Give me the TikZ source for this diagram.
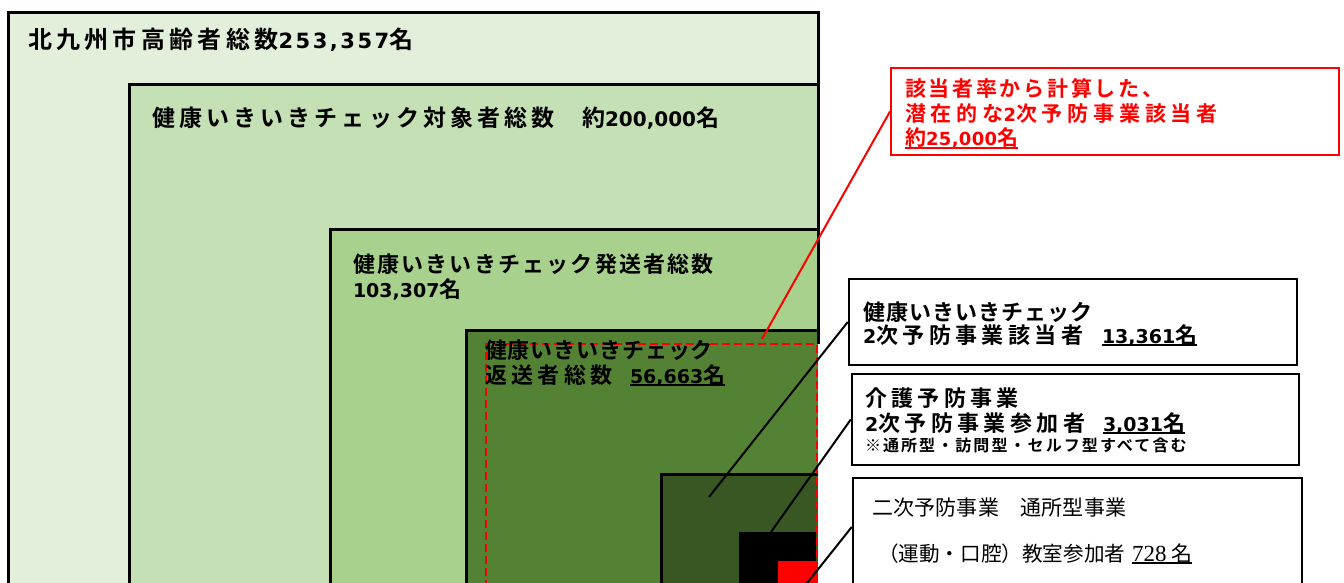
\documentclass[tikz,border=0pt]{standalone}
\usepackage{fontspec}
\setmainfont{Noto Sans CJK JP}
\newfontfamily\jpb{Noto Sans CJK JP Bold}
\newfontfamily\jpr{Noto Sans CJK JP}
\newfontfamily\dvb{DejaVu Sans Bold}
\newfontfamily\tnr{Liberation Serif}
\definecolor{gA}{HTML}{E2EFDA}
\definecolor{gB}{HTML}{C5E0B4}
\definecolor{gC}{HTML}{A9D18E}
\definecolor{gD}{HTML}{548235}
\definecolor{gE}{HTML}{385723}
\newcommand\dg[3]{{\dvb\fontsize{#1}{#1}\selectfont\addfontfeatures{LetterSpace=#2}#3}}
\newsavebox\ulbox
\newcommand\ulx[1]{\sbox\ulbox{#1}\rlap{\rule[-3pt]{\wd\ulbox}{1.6pt}}\usebox\ulbox}
\newcommand\jf[2]{\jpb\fontsize{#1}{#1}\selectfont\addfontfeatures{LetterSpace=#2}}
\newcommand\jr[2]{\jpr\fontsize{#1}{#1}\selectfont\addfontfeatures{LetterSpace=#2}}
\tikzset{
  txt/.style={anchor=base west, inner sep=0pt, outer sep=0pt},
  gb/.style={line width=3pt},
  callbox/.style={draw=black, line width=2.5pt, fill=white, inner sep=0pt},
  redbox/.style={draw=red, line width=2pt, fill=white, inner sep=0pt},
  conn/.style={line width=2pt, black},
}
\begin{document}
\begin{tikzpicture}[x=1pt,y=-1pt]
\useasboundingbox (0,0) rectangle (1344,583);
\clip (0,0) rectangle (1344,583);
\fill[white] (0,0) rectangle (1344,583);
% nested green areas
\fill[gA] (8,13) rectangle (818,600);
\draw[gb] (8,600) -- (8,13) -- (818,13);
\fill[gB] (129,85) rectangle (818,600);
\draw[gb] (129,600) -- (129,85) -- (818,85);
\fill[gC] (330,229) rectangle (818,600);
\draw[gb] (330,600) -- (330,229) -- (818,229);
\fill[gD] (466,330) rectangle (818,600);
\draw[gb] (466,600) -- (466,330) -- (818,330);
\fill[gE] (661,474) rectangle (818,600);
\draw[gb] (661,600) -- (661,474) -- (818,474);
\fill[black] (739,532) rectangle (816,600);
\fill[red] (778,561) rectangle (818,600);
\draw[gb] (818,11.5) -- (818,344);
\draw[red, line width=2.5pt, dash pattern=on 8pt off 4pt] (486,600) -- (486,344) -- (817,344) -- (817,600);
% texts in green areas
\node[txt, font={\jf{24}{18}}] (t1) at (28,49) {北九州市高齢者総数\dg{21}{12}{253,357}名};
\node[txt, font={\jf{23}{18}}] (t2a) at (152,127) {健康いきいきチェック対象者総数};
\node[txt, font={\jf{23}{18}}] (t2b) at (582,127) {約\dg{20}{0}{200,000}名};
\node[txt, font={\jf{22}{10}}] (t3a) at (353,272) {健康いきいきチェック発送者総数};
\node[txt, font={\jf{22}{10}}] (t3b) at (353,297) {\dg{19}{0}{103,307}名};
\node[txt, font={\jf{22}{4}}] (t4a) at (485,358) {健康いきいきチェック};
\node[txt, font={\jf{22}{20}}] (t4b) at (485,383) {返送者総数};
\node[txt, font={\jf{22}{5}}] (t4c) at (630,383) {\ulx{\dg{19}{0}{56,663}名}};
% callout boxes
\node[redbox, minimum width=448, minimum height=87] (rb) at (1115,111.5) {};
\node[callbox, minimum width=448, minimum height=86] (cA) at (1073,322) {};
\node[callbox, minimum width=447, minimum height=91] (cB) at (1075.5,419.5) {};
\node[callbox, minimum width=449, minimum height=122] (cC) at (1077.5,539) {};
% callout texts
\node[txt, red, font={\jf{21}{13}}] (r1) at (905,97) {該当者率から計算した、};
\node[txt, red, font={\jf{21}{23}}] (r2) at (905,122) {潜在的な\dg{18}{0}{2}次予防事業該当者};
\node[txt, red, font={\jf{21}{20}}] (r3) at (905,146) {\ulx{約\dg{18}{2}{25,000}名}};
\node[txt, font={\jf{22}{5}}] (a1) at (863,320) {健康いきいきチェック};
\node[txt, font={\jf{22}{20}}] (a2) at (863,343) {\dg{19}{0}{2}次予防事業該当者};
\node[txt, font={\jf{22}{5}}] (a3) at (1102,343) {\ulx{\dg{19}{0}{13,361}名}};
\node[txt, font={\jf{22}{20}}] (b1) at (865,406) {介護予防事業};
\node[txt, font={\jf{22}{20}}] (b2) at (865,431) {\dg{19}{0}{2}次予防事業参加者};
\node[txt, font={\jf{22}{5}}] (b3) at (1103,431) {\ulx{\dg{19}{0}{3,031}名}};
\node[txt, font={\jf{16}{13}}] (b4) at (865,451) {※通所型・訪問型・セルフ型すべて含む};
\node[txt, font={\jr{21}{1}}] (c1) at (872,515) {二次予防事業　通所型事業};
\node[txt, font={\jr{20.6}{0}}] (c2) at (878,561) {（運動・口腔）教室参加者};
\node[txt, font={\jr{21}{0}}] (c3) at (1132,561) {\ulx{{\tnr\fontsize{23}{23}\selectfont 728} 名}};
% connectors
\coordinate (pr) at (762,339);
\coordinate (pa) at (709,497);
\coordinate (pb) at (771,532);
\coordinate (pc) at (796,597);
\draw[red, line width=2pt] (rb.west) -- (pr);
\draw[conn] (cA.west) -- (pa);
\draw[conn] (cB.west) -- (pb);
\draw[conn] ([yshift=12pt]cC.west) -- (pc);
\end{tikzpicture}
\end{document}
